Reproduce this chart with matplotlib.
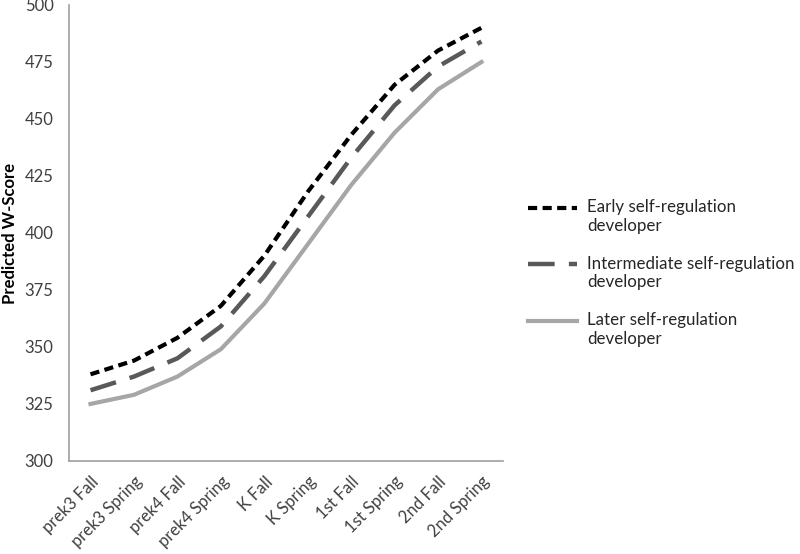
import matplotlib.pyplot as plt
from matplotlib.legend_handler import HandlerLine2D

plt.rcParams['font.family'] = ['Lato', 'DejaVu Sans']

# Category labels along the x axis
waves = ["prek3 Fall", "prek3 Spring", "prek4 Fall", "prek4 Spring", "K Fall",
         "K Spring", "1st Fall", "1st Spring", "2nd Fall", "2nd Spring"]

# Predicted W-scores
early = [338, 344, 354, 368, 390, 418, 443, 465, 480, 490]
intermediate = [331, 337, 345, 359, 381, 407, 433, 456, 473, 484]
later = [325, 329, 337, 349, 369, 395, 421, 444, 463, 475]

labels = ["Early self-regulation\ndeveloper",
          "Intermediate self-regulation\ndeveloper",
          "Later self-regulation\ndeveloper"]


class TopLineHandler(HandlerLine2D):
    # put the legend line next to the first text line, like Excel does
    def create_artists(self, legend, orig_handle, xdescent, ydescent,
                       width, height, fontsize, trans):
        return super().create_artists(legend, orig_handle, xdescent,
                                      ydescent - 1.1 * fontsize, width, height,
                                      fontsize, trans)


fig = plt.figure(figsize=(8, 5.54), dpi=100)
ax = fig.add_axes([0.086, 0.168, 0.543, 0.823])

x = list(range(len(waves)))
ax.plot(x, early, color='black', lw=3, dashes=(2.2, 1.3), label=labels[0])
ax.plot(x, intermediate, color='#595959', lw=3.2, dashes=(6, 3.2), label=labels[1])
ax.plot(x, later, color='#a6a6a6', lw=3, label=labels[2])

ax.set_xlim(-0.5, len(waves) - 0.5)
ax.set_ylim(300, 500)
ax.set_yticks(range(300, 501, 25))
ax.set_xticks(x)
ax.set_xticklabels(waves, rotation=45, ha='right', rotation_mode='anchor')
ax.tick_params(axis='both', length=0, labelsize=12, colors='#404040')
ax.tick_params(axis='x', pad=9)
ax.tick_params(axis='y', pad=11)

for side in ['top', 'right']:
    ax.spines[side].set_visible(False)
for side in ['left', 'bottom']:
    ax.spines[side].set_color('#a0a0a0')
    ax.spines[side].set_linewidth(1.2)

ax.set_ylabel("Predicted W-Score", fontsize=12, fontweight='bold', labelpad=5)

fig.legend(loc='center left', bbox_to_anchor=(0.66, 0.507), frameon=False,
           fontsize=12.2, handlelength=2.9, labelspacing=1.3, handletextpad=0.6,
           borderpad=0, borderaxespad=0, labelcolor='#262626',
           handler_map={plt.Line2D: TopLineHandler()})

fig.savefig("out.png", dpi=100)
